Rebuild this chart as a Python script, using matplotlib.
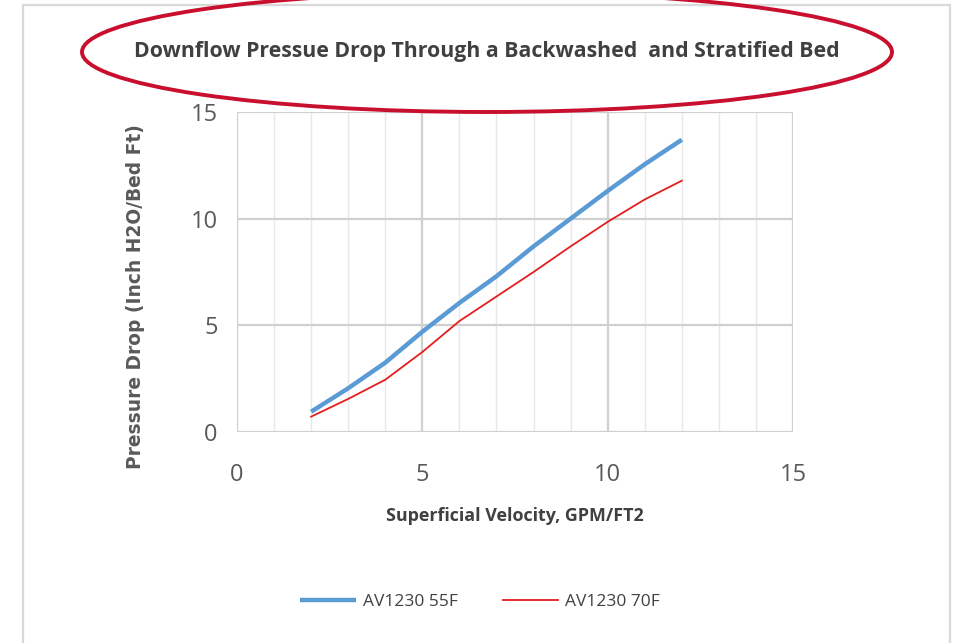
import numpy as np
import matplotlib.pyplot as plt
from matplotlib.patches import Ellipse, Rectangle

# data
velocity = [2, 3, 4, 5, 6, 7, 8, 9, 10, 11, 12]
drop_55f = [0.95, 2.05, 3.25, 4.7, 6.05, 7.3, 8.7, 10.0, 11.3, 12.55, 13.7]
drop_70f = [0.72, 1.55, 2.45, 3.75, 5.2, 6.35, 7.5, 8.7, 9.85, 10.9, 11.78]

title = 'Downflow Pressue Drop Through a Backwashed  and Stratified Bed'
xlabel = 'Superficial Velocity, GPM/FT2'
ylabel = 'Pressure Drop (Inch H2O/Bed Ft)'
labels = ['AV1230 55F', 'AV1230 70F']

W, H = 966, 643
narrow = ['Open Sans', 'DejaVu Sans']

fig = plt.figure(figsize=(W / 100, H / 100), dpi=100)
fig.patch.set_facecolor('white')

# chart frame
fig.patches.append(Rectangle((23 / W, -0.05), (950 - 23) / W, 1.05 - 5 / H,
                             transform=fig.transFigure, fill=False,
                             edgecolor='#d9d9d9', lw=1.6))

ax = fig.add_axes([237 / W, 1 - 432 / H, (793 - 237) / W, (432 - 112) / H])
ax.plot(velocity, drop_55f, color='#5B9BD5', lw=3.2, label=labels[0],
        solid_capstyle='butt', zorder=3)
ax.plot(velocity, drop_70f, color='#E41E1E', lw=1.3, label=labels[1], zorder=3)

ax.set_xlim(0, 15)
ax.set_ylim(0, 15)
ax.set_xticks([0, 5, 10, 15])
ax.set_yticks([0, 5, 10, 15])
ax.set_xticks(np.arange(0, 16, 1), minor=True)
ax.grid(True, which='major', color='#d0d0d0', lw=1.6)
ax.grid(True, which='minor', axis='x', color='#e8e8e8', lw=1.0)
for s in ax.spines.values():
    s.set_visible(False)
ax.tick_params(which='both', length=0, labelcolor='#595959', labelsize=17)
ax.tick_params(axis='x', pad=22)
ax.tick_params(axis='y', pad=14)
for t in ax.get_xticklabels() + ax.get_yticklabels():
    t.set_family(narrow)

ax.set_xlabel(xlabel, family=narrow, fontsize=12.9, fontweight='bold',
              color='#404040', labelpad=15)
ax.set_ylabel(ylabel, family='DejaVu Sans', fontsize=13.4, fontweight='bold',
              color='#595959')
ax.yaxis.set_label_coords((145 - 237) / (793 - 237), (432 - 297) / (432 - 112))

fig.text(487 / W, 1 - 51 / H, title, ha='center', va='center', family=narrow,
         fontsize=15.3, fontweight='bold', color='#404040')

# red highlight around the title
fig.patches.append(Ellipse((487 / W, 1 - 52 / H), 810 / W, 120 / H,
                           transform=fig.transFigure, fill=False,
                           edgecolor='#C8102E', lw=2.8))

fig.legend(loc='center', bbox_to_anchor=(480 / W, 1 - 602 / H), ncol=2,
           frameon=False, prop={'family': narrow, 'size': 12.5},
           labelcolor='#404040', handlelength=3.2, columnspacing=2.6,
           handletextpad=0.4)

fig.savefig('out.png', dpi=100)
